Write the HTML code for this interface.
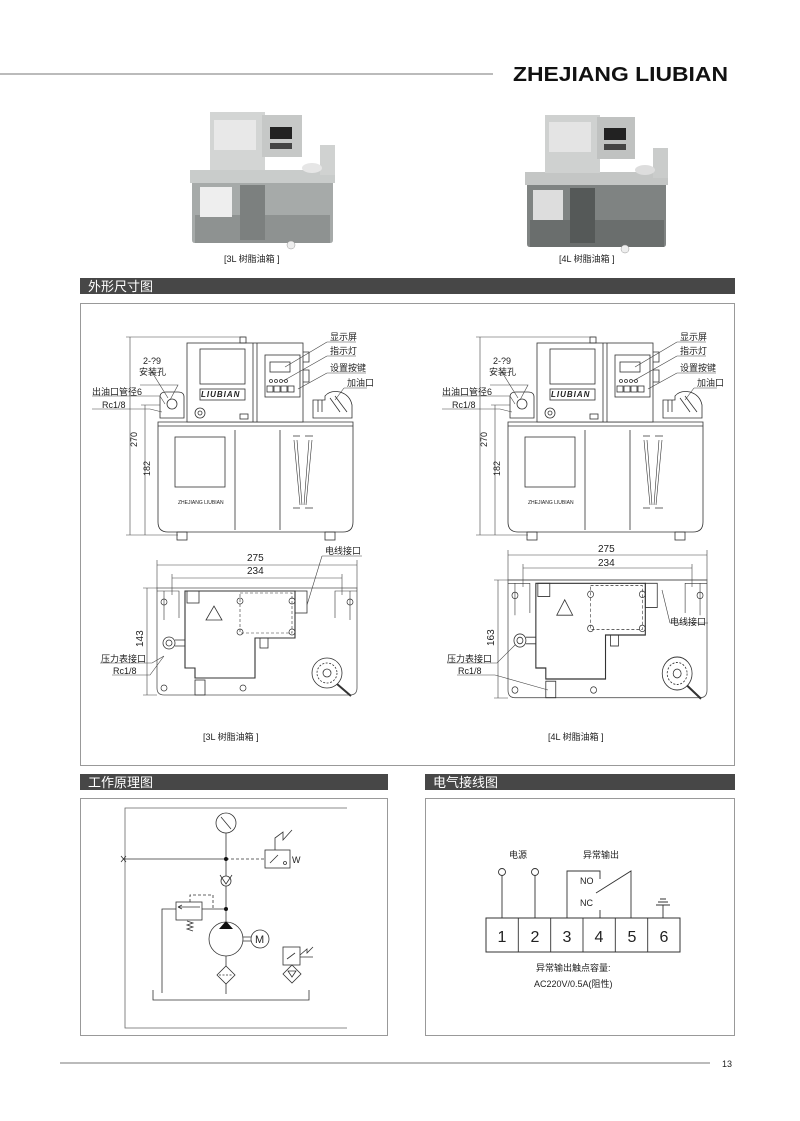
<!DOCTYPE html>
<html><head><meta charset="utf-8"><style>
html,body{margin:0;padding:0;background:#fff}
svg{display:block}
text{font-family:"Liberation Sans","Noto Sans CJK SC",sans-serif;fill:#222}
</style></head><body>
<svg width="800" height="1121" viewBox="0 0 800 1121" xmlns="http://www.w3.org/2000/svg">
<defs>
<g id="front" fill="none" stroke="#333" stroke-width="0.8">
  <!-- tank -->
  <path d="M158,422 H353 V522 Q353,532 343,532 H168 Q158,532 158,522 Z" fill="#fff"/>
  <line x1="158" y1="426" x2="353" y2="426"/>
  <rect x="175" y="437" width="50" height="50"/>
  <path d="M235,430 V530 M280,430 V530"/>
  <path d="M294,440 L300,505 M312,440 L306,505 M297,440 L302,505 M309,440 L304,505" stroke-width="0.6"/>
  <path d="M293,436 H300 M305,436 H313 M293,508 H300 M305,508 H313"/>
  <rect x="177" y="532" width="10" height="8"/><rect x="325" y="532" width="10" height="8"/>
  <!-- control box -->
  <rect x="187" y="343" width="116" height="79" fill="#fff"/>
  <line x1="253" y1="343" x2="253" y2="422"/><line x1="257" y1="343" x2="257" y2="422"/>
  <rect x="200" y="349" width="45" height="35"/>
  <rect x="200" y="389" width="45" height="11"/>
  <rect x="265" y="355" width="35" height="42"/>
  <rect x="270" y="362" width="20" height="10"/>
  <circle cx="271" cy="381" r="1.5"/><circle cx="276" cy="381" r="1.5"/><circle cx="281" cy="381" r="1.5"/><circle cx="286" cy="381" r="1.5"/>
  <rect x="267" y="386" width="6" height="6"/><rect x="274" y="386" width="6" height="6"/><rect x="281" y="386" width="6" height="6"/><rect x="288" y="386" width="6" height="6"/>
  <path d="M303,352 h6 v10 h-6 M303,370 h6 v12 h-6"/>
  <rect x="240" y="337" width="6" height="6"/>
  <!-- left fitting -->
  <path d="M160,397 Q160,392 166,392 H178 Q184,392 184,397 V418 H160 Z" fill="#fff"/>
  <circle cx="172" cy="404" r="5"/>
  <circle cx="200" cy="413" r="5"/><circle cx="200" cy="413" r="2"/>
  <rect x="240" y="414" width="8" height="5"/>
  <!-- right filler -->
  <path d="M313,413 V400 H325 V396 Q330,390 340,392 Q350,395 352,405 V418 H313 Z" fill="#fff"/>
  <path d="M318,400 v12 M322,400 v12 M330,398 l10,14 M335,396 l12,16"/>
</g>
<g id="plan" fill="none" stroke="#333" stroke-width="0.8">
  <path d="M0,0 H200 V100 Q200,107 193,107 H7 Q0,107 0,100 Z" stroke="#555"/>
  <path d="M0,3 H22 V30 M7,3 V32 M200,3 H178 V30 M193,3 V32" stroke-width="0.6"/>
  <path d="M28,3 H138 V50 H98 V90 H38 V80 H28 Z" stroke-width="1.1"/>
  <rect x="83" y="5" width="52" height="40" stroke-dasharray="3,2" stroke-width="0.6"/>
  <path d="M49,32 L57,18 L65,32 Z"/>
  <rect x="30" y="3" width="12" height="12"/>
  <rect x="138" y="3" width="12" height="22"/>
  <rect x="103" y="50" width="8" height="10"/>
  <rect x="38" y="92" width="10" height="15"/>
  <circle cx="12" cy="55" r="6"/><circle cx="12" cy="55" r="3"/>
  <path d="M18,52 H28 M18,58 H28"/>
  <g stroke-width="0.7">
  <circle cx="7" cy="14" r="3"/><circle cx="193" cy="14" r="3"/><circle cx="7" cy="100" r="3"/><circle cx="86" cy="100" r="3"/>
  <circle cx="83" cy="13" r="3"/><circle cx="135" cy="13" r="3"/><circle cx="83" cy="44" r="3"/><circle cx="135" cy="44" r="3"/>
  </g>
  <circle cx="170" cy="85" r="15"/><circle cx="170" cy="85" r="10" stroke-dasharray="2,1.5"/><circle cx="170" cy="85" r="4"/>
  <path d="M180,96 L194,108" stroke-width="2"/>
</g>
</defs>

<!-- header -->
<line x1="0" y1="74" x2="493" y2="74" stroke="#777" stroke-width="1"/>
<text x="513" y="81" font-size="20" font-weight="bold" textLength="215" lengthAdjust="spacingAndGlyphs" style="fill:#111">ZHEJIANG LIUBIAN</text>

<!-- photos -->
<g>
  <rect x="190" y="170" width="145" height="13" fill="#c9cccb"/>
  <path d="M192,183 H333 V240 Q333,243 330,243 H195 Q192,243 192,240 Z" fill="#a6aaa9"/>
  <rect x="195" y="215" width="135" height="28" fill="#8e9291"/>
  <rect x="200" y="187" width="32" height="30" fill="#eee"/>
  <rect x="240" y="185" width="25" height="55" fill="#7c807f"/>
  <rect x="210" y="112" width="55" height="58" fill="#d3d5d4"/>
  <rect x="214" y="120" width="42" height="30" fill="#e8e8e8"/>
  <rect x="262" y="115" width="40" height="42" fill="#c6c8c7"/>
  <rect x="270" y="127" width="22" height="12" fill="#222"/>
  <rect x="270" y="143" width="22" height="6" fill="#444"/>
  <rect x="320" y="145" width="15" height="30" fill="#d0d2d1"/>
  <ellipse cx="312" cy="168" rx="10" ry="5" fill="#e6e6e6"/>
  <circle cx="291" cy="245" r="4" fill="#eee" stroke="#999" stroke-width="0.5"/>
</g>
<g>
  <rect x="525" y="172" width="143" height="13" fill="#c4c6c5"/>
  <path d="M527,185 H666 V244 Q666,247 663,247 H530 Q527,247 527,244 Z" fill="#7f8382"/>
  <rect x="530" y="220" width="134" height="27" fill="#6a6e6d"/>
  <rect x="533" y="190" width="30" height="30" fill="#ddd"/>
  <rect x="570" y="188" width="25" height="55" fill="#555958"/>
  <rect x="545" y="115" width="55" height="58" fill="#cfd1d0"/>
  <rect x="549" y="122" width="42" height="30" fill="#e4e4e4"/>
  <rect x="597" y="117" width="38" height="42" fill="#c0c2c1"/>
  <rect x="604" y="128" width="22" height="12" fill="#222"/>
  <rect x="604" y="144" width="22" height="6" fill="#444"/>
  <rect x="653" y="148" width="15" height="30" fill="#cacccb"/>
  <ellipse cx="645" cy="170" rx="10" ry="5" fill="#ddd"/>
  <circle cx="625" cy="249" r="4" fill="#eee" stroke="#999" stroke-width="0.5"/>
</g>
<text x="224" y="262" font-size="9">[3L 树脂油箱 ]</text>
<text x="559" y="262" font-size="9">[4L 树脂油箱 ]</text>

<!-- section 1 -->
<rect x="80" y="278" width="655" height="16" fill="#474747"/>
<text x="88" y="291" font-size="13" style="fill:#fff">外形尺寸图</text>
<rect x="80.5" y="303.5" width="654" height="462" fill="none" stroke="#999" stroke-width="1"/>

<use href="#front"/>
<use href="#front" transform="translate(350,0)"/>

<g fill="none" stroke="#444" stroke-width="0.6">
  <path d="M130,337 V535 M126,337 H245 M126,535 H178 M145,405 V535 M141,405 H160"/>
  <path d="M480,337 V535 M476,337 H595 M476,535 H528 M495,405 V535 M491,405 H510"/>
  <path d="M140,385 H178 L170,400 M150,369 L168,398 M92,396 H160 L165,404 M92,409 H150 L162,412"/>
  <path d="M490,385 H528 L520,400 M500,369 L518,398 M442,396 H510 L515,404 M442,409 H500 L512,412"/>
  <path d="M327,342 H356 M327,342 L285,367 M327,356 H356 M327,356 L283,381 M327,373 H366 M327,373 L298,389 M344,388 H367 M344,388 L335,400"/>
  <path d="M677,342 H706 M677,342 L635,367 M677,356 H706 M677,356 L633,381 M677,373 H716 M677,373 L648,389 M694,388 H717 M694,388 L685,400"/>
</g>
<g font-size="9">
  <text x="143" y="364">2-?9</text><text x="139" y="375">安装孔</text>
  <text x="92" y="395">出油口管径6</text><text x="102" y="408">Rc1/8</text>
  <text x="493" y="364">2-?9</text><text x="489" y="375">安装孔</text>
  <text x="442" y="395">出油口管径6</text><text x="452" y="408">Rc1/8</text>
  <text x="330" y="340">显示屏</text><text x="330" y="354">指示灯</text><text x="330" y="371">设置按键</text><text x="347" y="386">加油口</text>
  <text x="680" y="340">显示屏</text><text x="680" y="354">指示灯</text><text x="680" y="371">设置按键</text><text x="697" y="386">加油口</text>
  <text transform="translate(137,447) rotate(-90)">270</text>
  <text transform="translate(150,476) rotate(-90)">182</text>
  <text transform="translate(487,447) rotate(-90)">270</text>
  <text transform="translate(500,476) rotate(-90)">182</text>
</g>
<text x="178" y="504" font-size="5">ZHEJIANG LIUBIAN</text>
<text x="528" y="504" font-size="5">ZHEJIANG LIUBIAN</text>
<text x="201" y="397" font-size="8" font-weight="bold" font-style="italic" letter-spacing="1">LIUBIAN</text>
<text x="551" y="397" font-size="8" font-weight="bold" font-style="italic" letter-spacing="1">LIUBIAN</text>

<!-- plan views -->
<use href="#plan" transform="translate(157,588)"/>
<use href="#plan" transform="translate(508,580) scale(0.995,1.1)"/>
<g fill="none" stroke="#444" stroke-width="0.6">
  <path d="M157,565 H357 M157,560 V588 M357,560 V588 M172,578 H342 M172,574 V595 M342,574 V595"/>
  <path d="M147,588 V695 M143,588 H157 M143,695 H157"/>
  <path d="M322,556 H362 M322,556 L307,605 M100,663 H152 L164,656 M112,675 H150 L164,656"/>
  <path d="M508,555 H707 M508,550 V580 M707,550 V580 M523,568 H692 M523,564 V587 M692,564 V587"/>
  <path d="M498,580 V698 M494,580 H508 M494,698 H508"/>
  <path d="M670,623 H708 M670,623 L662,590 M447,663 H497 L515,645 M457,675 H495 L548,690"/>
</g>
<g font-size="9">
  <text x="247" y="561" font-size="10">275</text><text x="247" y="574" font-size="10">234</text>
  <text transform="translate(143,647) rotate(-90)" font-size="10">143</text>
  <text x="325" y="554">电线接口</text><text x="101" y="662">压力表接口</text><text x="113" y="674">Rc1/8</text>
  <text x="598" y="552" font-size="10">275</text><text x="598" y="566" font-size="10">234</text>
  <text transform="translate(494,646) rotate(-90)" font-size="10">163</text>
  <text x="670" y="625">电线接口</text><text x="447" y="662">压力表接口</text><text x="458" y="674">Rc1/8</text>
  <text x="203" y="740">[3L 树脂油箱 ]</text><text x="548" y="740">[4L 树脂油箱 ]</text>
</g>

<!-- section 2 -->
<rect x="80" y="774" width="308" height="16" fill="#474747"/>
<text x="88" y="787" font-size="13" style="fill:#fff">工作原理图</text>
<rect x="80.5" y="798.5" width="307" height="237" fill="none" stroke="#999"/>
<g fill="none" stroke="#333" stroke-width="0.8">
  <path d="M347,808 H125 V1028 H347" stroke="#666"/>
  <path d="M121,856 l5,6 M121,862 l5,-6"/>
  <path d="M123,859 H226"/>
  <path d="M226,833 V921"/>
  <circle cx="226" cy="823" r="10" fill="#fff"/><path d="M221,817 L231,829"/>
  <path d="M226,859 H265" stroke-dasharray="3,2"/>
  <rect x="265" y="850" width="25" height="18" fill="#fff"/>
  <path d="M270,863 L278,855 M285,863 m-1.5,0 a1.5,1.5 0 1,0 3,0 a1.5,1.5 0 1,0 -3,0"/>
  <path d="M275,850 V838 L283,832 L283,840 L292,830"/>
  <circle cx="226" cy="881" r="5" fill="#fff"/><path d="M220,875 L226,884 L232,875"/>
  <rect x="176" y="902" width="26" height="18" fill="#fff"/>
  <path d="M178,907 H200 M178,907 l4,-2 M178,907 l4,2"/>
  <path d="M190,902 V895 H213 V909" stroke-dasharray="3,2"/>
  <path d="M202,909 H226 M176,909 H162 V993"/>
  <path d="M187,921 l6,2 -6,2 6,2 -6,2 6,2"/>
  <circle cx="226" cy="939" r="17" fill="#fff"/>
  <path d="M243,937 H251 M243,941 H251"/>
  <circle cx="260" cy="939" r="9" fill="#fff"/>
  <path d="M226,956 V966 M226,984 V994"/>
  <path d="M226,966 L235,975 L226,984 L217,975 Z" fill="#fff"/>
  <path d="M219,975 H233" stroke-dasharray="2,1.5"/>
  <path d="M153,990 V1000 H309 V990"/>
  <rect x="283" y="947" width="17" height="18" fill="#fff"/>
  <path d="M287,959 L295,953"/>
  <path d="M300,955 L307,949 L307,953 L313,947 M300,957 H313"/>
  <path d="M292,965 L301,974 L292,983 L283,974 Z" fill="#fff"/>
  <path d="M288,971 H296 L292,977 Z"/>
</g>
<circle cx="226" cy="859" r="2" fill="#111"/><circle cx="226" cy="909" r="2" fill="#111"/>
<path d="M219,929 L233,929 L226,921 Z" fill="#111"/>
<text x="255" y="943" font-size="11">M</text>
<text x="292" y="863" font-size="9">W</text>

<!-- section 3 -->
<rect x="425" y="774" width="310" height="16" fill="#474747"/>
<text x="433" y="787" font-size="13" style="fill:#fff">电气接线图</text>
<rect x="425.5" y="798.5" width="309" height="237" fill="none" stroke="#999"/>
<g fill="none" stroke="#333" stroke-width="0.9">
  <rect x="486" y="918" width="194" height="34" stroke-width="1"/>
  <path d="M518.3,918 V952 M550.7,918 V952 M583,918 V952 M615.3,918 V952 M647.7,918 V952"/>
  <circle cx="502" cy="872" r="3.5"/><circle cx="535" cy="872" r="3.5"/>
  <path d="M502,875.5 V918 M535,875.5 V918"/>
  <path d="M567,918 V871 H600 V879 M600,910 V918"/>
  <path d="M596,893 L631,871 V918"/>
  <path d="M663,918 V905 M656,905 H670 M658,902 H668 M660,899 H666"/>
</g>
<g font-size="9">
  <text x="509" y="858">电源</text><text x="583" y="858">异常输出</text>
  <text x="580" y="884">NO</text><text x="580" y="906">NC</text>
  <text x="536" y="971">异常输出触点容量:</text>
  <text x="534" y="987">AC220V/0.5A(阻性)</text>
</g>
<g font-size="16" text-anchor="middle">
  <text x="502" y="942">1</text><text x="535" y="942">2</text><text x="567" y="942">3</text>
  <text x="599" y="942">4</text><text x="632" y="942">5</text><text x="664" y="942">6</text>
</g>

<!-- footer -->
<line x1="60" y1="1063" x2="710" y2="1063" stroke="#777"/>
<text x="722" y="1067" font-size="9">13</text>
</svg>
</body></html>
